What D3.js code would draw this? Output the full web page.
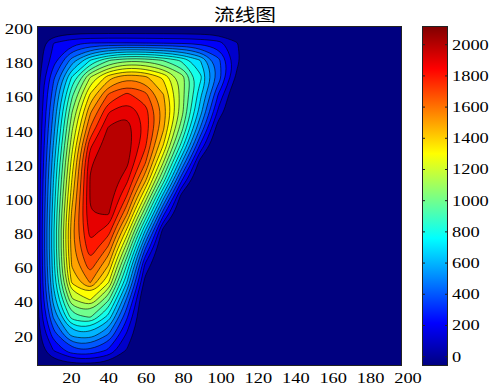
<!DOCTYPE html>
<html>
<head>
<meta charset="utf-8">
<script src="https://cdn.jsdelivr.net/npm/d3@7"></script>
<style>
  body { margin: 0; background: #fff; }
  svg { display: block; }
</style>
</head>
<body>
<div id="chart"></div>
<script>
// stream function sampled every 10 units, rows go bottom (y=0) to top (y=200)
const gridX = [0, 10, 20, 30, 40, 50, 60, 70, 80, 90, 100, 110, 120];
const gridY = [0, 10, 20, 30, 40, 50, 60, 70, 80, 90, 100, 110, 120, 130, 140, 150, 160, 170, 180, 190, 200];
const psiRows = [
    [0, 0, 0, 0, 0, 0, -60, -60, -60, -60, -60, -60, -60],
    [0, 200, 370, 390, 280, 90, -60, -60, -60, -60, -60, -60, -60],
    [0, 360, 660, 690, 510, 190, -60, -60, -60, -60, -60, -60, -60],
    [0, 520, 960, 1020, 770, 320, -60, -60, -60, -60, -60, -60, -60],
    [0, 640, 1190, 1310, 1020, 480, -60, -60, -60, -60, -60, -60, -60],
    [0, 720, 1420, 1610, 1310, 700, 50, -60, -60, -60, -60, -60, -60],
    [0, 760, 1510, 1760, 1500, 890, 170, -60, -60, -60, -60, -60, -60],
    [0, 780, 1550, 1870, 1680, 1130, 410, -60, -60, -60, -60, -60, -60],
    [0, 780, 1560, 1940, 1850, 1370, 690, 30, -60, -60, -60, -60, -60],
    [0, 760, 1520, 1995, 2010, 1610, 1000, 320, -60, -60, -60, -60, -60],
    [0, 730, 1460, 2010, 2070, 1790, 1280, 630, 30, -60, -60, -60, -60],
    [0, 700, 1400, 2010, 2100, 1930, 1530, 950, 310, -60, -60, -60, -60],
    [0, 660, 1340, 1980, 2120, 2030, 1710, 1190, 590, 40, -60, -60, -60],
    [0, 610, 1260, 1880, 2080, 2060, 1820, 1390, 850, 280, -60, -60, -60],
    [0, 560, 1180, 1710, 2020, 2050, 1870, 1510, 1030, 490, 20, -60, -60],
    [0, 510, 1090, 1580, 1890, 1980, 1850, 1560, 1140, 650, 170, -60, -60],
    [0, 450, 970, 1410, 1710, 1820, 1730, 1500, 1150, 730, 290, -60, -60],
    [0, 380, 810, 1200, 1460, 1580, 1530, 1380, 1150, 830, 460, 70, -60],
    [0, 250, 540, 800, 990, 1070, 1060, 990, 880, 700, 430, 130, -60],
    [0, 200, 280, 300, 305, 305, 300, 295, 290, 275, 240, 110, -60],
    [-60, -60, -60, -60, -60, -60, -60, -60, -60, -60, -60, -60, -60]
];
const backgroundValue = -60;
const levels = [100, 200, 300, 400, 500, 600, 700, 800, 900, 1000, 1100, 1200, 1300, 1400, 1500, 1600, 1700, 1800, 1900, 2000];
const xTicks = [20, 40, 60, 80, 100, 120, 140, 160, 180, 200];
const yTicks = [20, 40, 60, 80, 100, 120, 140, 160, 180, 200];
const colorTicks = [0, 200, 400, 600, 800, 1000, 1200, 1400, 1600, 1800, 2000];
const title = "流线图";

const width = 490, height = 390;
const plot = { left: 37, top: 26, right: 402, bottom: 366 };
const bar = { left: 422, right: 448 };
const serif = "'Liberation Serif', 'Times New Roman', serif";

const svg = d3.select("#chart").append("svg")
    .attr("width", width)
    .attr("height", height);

svg.append("rect").attr("width", width).attr("height", height).attr("fill", "#fff");

const x = d3.scaleLinear().domain([1, 200]).range([plot.left, plot.right]);
const y = d3.scaleLinear().domain([1, 200]).range([plot.bottom, plot.top]);
// the tick labels in the figure sit on a slightly wider spacing than the frame
const xLabel = d3.scaleLinear().domain([0, 200]).range([34, 408]);

// pad the sampled rows out to x = 200 with the background value
const step = gridX[1] - gridX[0];
const nx = 200 / step + 1;
const ny = gridY.length;
const values = [];
psiRows.forEach(row => {
    for (let i = 0; i < nx; i++) values.push(i < row.length ? row[i] : backgroundValue);
});

const cmin = d3.min(values), cmax = d3.max(values);

function jet(t) {
    const c = v => Math.max(0, Math.min(1, v));
    return d3.rgb(
        255 * c(1.5 - Math.abs(4 * t - 3)),
        255 * c(1.5 - Math.abs(4 * t - 2)),
        255 * c(1.5 - Math.abs(4 * t - 1))
    ).formatHex();
}
const color = v => jet((v - cmin) / (cmax - cmin));

// filled contours
svg.append("clipPath").attr("id", "plot-clip")
    .append("rect")
    .attr("x", plot.left).attr("y", plot.top)
    .attr("width", plot.right - plot.left).attr("height", plot.bottom - plot.top);

const field = svg.append("g").attr("clip-path", "url(#plot-clip)");

field.append("rect")
    .attr("x", plot.left).attr("y", plot.top)
    .attr("width", plot.right - plot.left).attr("height", plot.bottom - plot.top)
    .attr("fill", color(cmin));

const contours = d3.contours().size([nx, ny]).thresholds(levels)(values);

const ringLine = d3.line()
    .curve(d3.curveBasisClosed)
    .x(p => x(gridX[0] + (p[0] - 0.5) * step))
    .y(p => y(gridY[0] + (p[1] - 0.5) * step));

field.selectAll("path.band")
    .data(contours)
    .enter()
    .append("path")
    .attr("class", "band")
    .attr("d", c => c.coordinates.map(poly => poly.map(ring => ringLine(ring.slice(0, -1))).join("")).join(""))
    .attr("fill-rule", "evenodd")
    .attr("fill", c => color(c.value))
    .attr("stroke", "#000")
    .attr("stroke-opacity", 0.85)
    .attr("stroke-width", 0.7);

svg.append("rect")
    .attr("x", plot.left + 0.5).attr("y", plot.top + 0.5)
    .attr("width", plot.right - plot.left - 1).attr("height", plot.bottom - plot.top - 1)
    .attr("fill", "none")
    .attr("stroke", "#222")
    .attr("stroke-width", 1);

// axis labels
svg.append("g").selectAll("text")
    .data(yTicks)
    .enter()
    .append("text")
    .attr("x", 33)
    .attr("y", d => y(d) + 8)
    .attr("text-anchor", "end")
    .style("font-family", serif)
    .style("font-size", "15px")
    .attr("textLength", d => String(d).length * 9.4)
    .attr("lengthAdjust", "spacingAndGlyphs")
    .text(d => d);

svg.append("g").selectAll("text")
    .data(xTicks)
    .enter()
    .append("text")
    .attr("x", d => xLabel(d))
    .attr("y", 383)
    .attr("text-anchor", "middle")
    .style("font-family", serif)
    .style("font-size", "15px")
    .attr("textLength", d => String(d).length * 9.2)
    .attr("lengthAdjust", "spacingAndGlyphs")
    .text(d => d);

svg.append("text")
    .attr("x", 245)
    .attr("y", 21)
    .attr("text-anchor", "middle")
    .style("font-family", "'Noto Sans CJK SC', sans-serif")
    .style("font-size", "17px")
    .attr("textLength", 62)
    .attr("lengthAdjust", "spacingAndGlyphs")
    .text(title);

// colorbar
const cb = d3.scaleLinear().domain([cmin, cmax]).range([plot.bottom, plot.top]);

const grad = svg.append("defs").append("linearGradient")
    .attr("id", "jet-grad")
    .attr("x1", 0).attr("y1", 1).attr("x2", 0).attr("y2", 0);

grad.selectAll("stop")
    .data([0, 1 / 8, 3 / 8, 5 / 8, 7 / 8, 1])
    .enter()
    .append("stop")
    .attr("offset", d => d)
    .attr("stop-color", d => jet(d));

svg.append("rect")
    .attr("x", bar.left + 0.5).attr("y", plot.top + 0.5)
    .attr("width", bar.right - bar.left - 1).attr("height", plot.bottom - plot.top - 1)
    .attr("fill", "url(#jet-grad)")
    .attr("stroke", "#222")
    .attr("stroke-width", 1);

const cbTicks = svg.append("g");
colorTicks.forEach(v => {
    cbTicks.append("line")
        .attr("x1", bar.left).attr("x2", bar.left + 3)
        .attr("y1", cb(v)).attr("y2", cb(v))
        .attr("stroke", "#222");
    cbTicks.append("line")
        .attr("x1", bar.right - 3).attr("x2", bar.right)
        .attr("y1", cb(v)).attr("y2", cb(v))
        .attr("stroke", "#222");
});

svg.append("g").selectAll("text")
    .data(colorTicks)
    .enter()
    .append("text")
    .attr("x", 452)
    .attr("y", d => cb(d) + 5)
    .style("font-family", serif)
    .style("font-size", "15px")
    .attr("textLength", d => String(d).length * 9.2)
    .attr("lengthAdjust", "spacingAndGlyphs")
    .text(d => d);
</script>
</body>
</html>
